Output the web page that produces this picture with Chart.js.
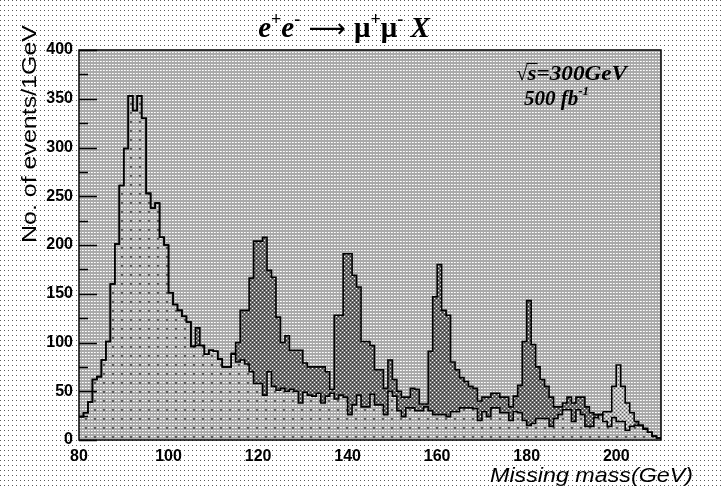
<!DOCTYPE html>
<html>
<head>
<meta charset="utf-8">
<script src="https://cdn.jsdelivr.net/npm/chart.js@4/dist/chart.umd.min.js"></script>
<style>
  html, body { margin: 0; padding: 0; background: #fff; }
  canvas { display: block; }
</style>
</head>
<body>
<canvas id="c" width="722" height="489"></canvas>
<script>
// left edges of the 1 GeV bins (missing mass, GeV)
const massBins = [
  80, 81, 82, 83, 84, 85, 86, 87, 88, 89, 90, 91, 92, 93, 94, 95, 96, 97, 98, 99,
  100, 101, 102, 103, 104, 105, 106, 107, 108, 109, 110, 111, 112, 113, 114, 115, 116, 117, 118, 119,
  120, 121, 122, 123, 124, 125, 126, 127, 128, 129, 130, 131, 132, 133, 134, 135, 136, 137, 138, 139,
  140, 141, 142, 143, 144, 145, 146, 147, 148, 149, 150, 151, 152, 153, 154, 155, 156, 157, 158, 159,
  160, 161, 162, 163, 164, 165, 166, 167, 168, 169, 170, 171, 172, 173, 174, 175, 176, 177, 178, 179,
  180, 181, 182, 183, 184, 185, 186, 187, 188, 189, 190, 191, 192, 193, 194, 195, 196, 197, 198, 199,
  200, 201, 202, 203, 204, 205, 206, 207, 208, 209
];
const massMax = 210;

// SM background (events / 1 GeV)
const background = [
  24, 28, 39, 62, 65, 82, 101, 160, 201, 261,
  299, 353, 338, 353, 330, 253, 238, 243, 208, 200,
  151, 139, 133, 127, 121, 96, 97, 97, 88, 92,
  91, 83, 75, 75, 88, 80, 82, 78, 70, 58,
  58, 46, 70, 55, 51, 53, 50, 52, 50, 38,
  49, 46, 45, 48, 38, 45, 48, 42, 46, 44,
  26, 36, 46, 34, 34, 47, 36, 36, 26, 50,
  45, 30, 24, 33, 33, 30, 30, 34, 30, 26,
  26, 26, 24, 29, 29, 33, 33, 33, 32, 20,
  29, 24, 33, 33, 28, 28, 20, 29, 28, 20,
  15, 17, 22, 22, 22, 14, 22, 26, 31, 31,
  19, 31, 26, 14, 14, 23, 26, 19, 14, 23,
  19, 19, 10, 14, 15, 15, 11, 8, 4, 2
];

// signal + background (events / 1 GeV)
const signalPlusBg = [
  24, 28, 39, 62, 65, 82, 101, 160, 201, 261,
  299, 353, 338, 353, 330, 253, 238, 243, 208, 200,
  151, 139, 133, 127, 121, 96, 115, 97, 88, 92,
  91, 83, 75, 75, 89, 100, 133, 133, 166, 204,
  204, 208, 174, 167, 126, 100, 107, 92, 92, 92,
  79, 75, 75, 75, 75, 70, 52, 128, 128, 191,
  191, 169, 157, 101, 101, 97, 72, 72, 53, 82,
  62, 50, 44, 44, 53, 52, 37, 37, 91, 147,
  180, 133, 128, 80, 72, 64, 60, 55, 53, 40,
  44, 44, 48, 48, 44, 44, 34, 45, 56, 101,
  143, 98, 75, 62, 55, 44, 34, 34, 38, 44,
  38, 44, 44, 34, 28, 26, 26, 29, 29, 55,
  77, 55, 38, 28, 19, 15, 12, 8, 4, 2
];

const xTicks = [80, 100, 120, 140, 160, 180, 200];
const yTicks = [0, 50, 100, 150, 200, 250, 300, 350, 400];
const yMinorTicks = [25, 75, 125, 175, 225, 275, 325, 375];
const lightSignalRange = [197, 204];

const canvas = document.getElementById('c');
const ctx = canvas.getContext('2d');

// ---------- fill patterns ----------
function makePattern(w, h, base, dots) {
  const c = document.createElement('canvas');
  c.width = w; c.height = h;
  const g = c.getContext('2d');
  g.fillStyle = base;
  g.fillRect(0, 0, w, h);
  dots.forEach(([x, y, col, s]) => {
    g.fillStyle = col;
    g.fillRect(x, y, s || 1, s || 1);
  });
  return ctx.createPattern(c, 'repeat');
}

const pagePat = makePattern(4, 5, '#ffffff', [[0, 0, '#5a5a5a']]);
const plotPat = makePattern(3, 3, '#a9a9a9', [[1, 1, '#ffffff'], [2, 1, '#e6e6e6']]);
const bgPat = makePattern(9, 9, '#a9a9a9', [
  [1, 1, '#ffffff'], [2, 1, '#e6e6e6'], [4, 1, '#ffffff'], [5, 1, '#e6e6e6'], [7, 1, '#ffffff'], [8, 1, '#e6e6e6'],
  [1, 4, '#ffffff'], [2, 4, '#e6e6e6'], [7, 4, '#ffffff'], [8, 4, '#e6e6e6'],
  [1, 7, '#ffffff'], [2, 7, '#e6e6e6'], [4, 7, '#ffffff'], [5, 7, '#e6e6e6'], [7, 7, '#ffffff'], [8, 7, '#e6e6e6'],
  [4, 4, '#5c5c5c', 2]
]);
const sigPat = makePattern(4, 4, '#6e6e6e', [
  [0, 0, '#ffffff'], [2, 2, '#e8e8e8'], [2, 0, '#303030'], [0, 2, '#303030']
]);
const sigLightPat = makePattern(4, 4, '#b8b8b8', [
  [0, 0, '#ffffff'], [2, 2, '#ffffff'], [2, 0, '#606060'], [0, 2, '#606060']
]);

// histogram as stepped line: points at left bin edges plus closing edge
const toSteps = vals => massBins.map((x, i) => ({ x, y: vals[i] }))
  .concat([{ x: massMax, y: vals[vals.length - 1] }]);

const SERIF = '"Liberation Serif", "DejaVu Serif", serif';
const SANS = '"Liberation Sans", Arial, sans-serif';

// ---------- drawing helpers ----------
function drawRuns(c, runs, cx, baseline) {
  let w = 0;
  runs.forEach(r => { c.font = r.font; w += c.measureText(r.t).width; });
  let x = cx - w / 2;
  runs.forEach(r => {
    c.font = r.font;
    c.fillText(r.t, x, baseline + (r.dy || 0));
    x += c.measureText(r.t).width;
  });
}

function fitText(c, text, font, x, y, width, align) {
  c.font = font;
  const m = c.measureText(text).width;
  c.save();
  c.translate(x, y);
  c.scale(width / m, 1);
  c.textAlign = align;
  c.fillText(text, 0, 0);
  c.restore();
}

const decorations = {
  id: 'decorations',
  beforeDraw(chart) {
    const { ctx: c, chartArea: a } = chart;
    c.save();
    c.fillStyle = pagePat;
    c.fillRect(0, 0, chart.width, chart.height);
    c.fillStyle = plotPat;
    c.fillRect(a.left, a.top, a.right - a.left, a.bottom - a.top);
    c.restore();
  },
  afterDatasetsDraw(chart) {
    const { ctx: c, chartArea: a, scales } = chart;
    c.save();
    c.strokeStyle = '#000';
    c.lineWidth = 1.5;
    c.beginPath();
    yTicks.forEach(v => {
      const y = Math.round(scales.y.getPixelForValue(v)) + 0.5;
      c.moveTo(a.left, y); c.lineTo(a.left + 18, y);
    });
    yMinorTicks.forEach(v => {
      const y = Math.round(scales.y.getPixelForValue(v)) + 0.5;
      c.moveTo(a.left, y); c.lineTo(a.left + 9, y);
    });
    c.stroke();
    c.strokeRect(a.left, a.top, a.right - a.left, a.bottom - a.top);
    c.restore();
  },
  afterDraw(chart) {
    const c = chart.ctx;
    c.save();
    c.fillStyle = '#000';
    c.textAlign = 'left';
    c.textBaseline = 'alphabetic';

    // title: e+e- -> mu+mu- X
    const big = 'bold italic 29px ' + SERIF;
    const sup = 'bold 18px ' + SERIF;
    drawRuns(c, [
      { t: 'e', font: big },
      { t: '+', font: sup, dy: -12 },
      { t: 'e', font: big },
      { t: '-', font: sup, dy: -12 },
      { t: ' \u27f6 ', font: '26px "DejaVu Sans", sans-serif' },
      { t: '\u03bc', font: 'bold 29px ' + SERIF },
      { t: '+', font: sup, dy: -12 },
      { t: '\u03bc', font: 'bold 29px ' + SERIF },
      { t: '-', font: sup, dy: -12 },
      { t: ' X', font: big }
    ], 344, 37);

    // sqrt(s) and luminosity
    const ann = 'bold italic 21px ' + SERIF;
    c.font = ann;
    const rw = c.measureText('\u221a').width;
    c.fillText('\u221a', 516, 80);
    fitText(c, 's=300GeV', ann, 516 + rw, 80, 111 - rw, 'left');
    c.font = ann;
    const sw = c.measureText('s').width * (111 - rw) / c.measureText('s=300GeV').width;
    c.lineWidth = 1.2;
    c.beginPath();
    c.moveTo(516 + rw - 1, 63.5); c.lineTo(516 + rw + sw + 1, 63.5);
    c.stroke();
    c.fillText('500 fb', 524, 105);
    const fw = c.measureText('500 fb').width;
    c.font = 'bold italic 13px ' + SERIF;
    c.fillText('-1', 524 + fw, 95);

    // axis titles
    c.save();
    c.translate(30, 25);
    c.rotate(-Math.PI / 2);
    c.textBaseline = 'middle';
    fitText(c, 'No. of events/1GeV', '21px ' + SANS, 0, 0, 218, 'right');
    c.restore();

    c.textBaseline = 'alphabetic';
    fitText(c, 'Missing mass(GeV)', 'italic 21px ' + SANS, 693, 482, 203, 'right');
    c.restore();
  }
};

new Chart(ctx, {
  type: 'line',
  data: {
    datasets: [
      {
        label: 'signal + background',
        data: toSteps(signalPlusBg),
        stepped: 'before',
        borderColor: '#000',
        borderWidth: 1.6,
        pointRadius: 0,
        fill: '+1',
        backgroundColor: sigPat,
        segment: {
          backgroundColor: s => (s.p0.parsed.x >= lightSignalRange[0] && s.p0.parsed.x < lightSignalRange[1]) ? sigLightPat : undefined
        }
      },
      {
        label: 'background',
        data: toSteps(background),
        stepped: 'before',
        borderColor: '#000',
        borderWidth: 1.6,
        pointRadius: 0,
        fill: 'origin',
        backgroundColor: bgPat
      }
    ]
  },
  options: {
    responsive: false,
    devicePixelRatio: 1,
    animation: false,
    layout: { padding: { top: 50, right: 61, left: 0, bottom: 0 } },
    plugins: {
      legend: { display: false },
      tooltip: { enabled: false },
      filler: { drawTime: 'beforeDatasetsDraw' }
    },
    scales: {
      x: {
        type: 'linear',
        min: massBins[0],
        max: massMax,
        afterBuildTicks: s => { s.ticks = xTicks.map(v => ({ value: v })); },
        afterFit: s => { s.height = 49; },
        grid: { display: false, drawTicks: false },
        border: { display: false },
        ticks: {
          color: '#000',
          padding: 7,
          maxRotation: 0,
          autoSkip: false,
          font: { family: SANS, size: 16, weight: 'bold' }
        }
      },
      y: {
        min: 0,
        max: 400,
        afterBuildTicks: s => { s.ticks = yTicks.map(v => ({ value: v })); },
        afterFit: s => { s.width = 79; },
        grid: { display: false, drawTicks: false },
        border: { display: false },
        ticks: {
          color: '#000',
          padding: 6,
          autoSkip: false,
          font: { family: SANS, size: 16, weight: 'bold' }
        }
      }
    }
  },
  plugins: [decorations]
});
</script>
</body>
</html>
